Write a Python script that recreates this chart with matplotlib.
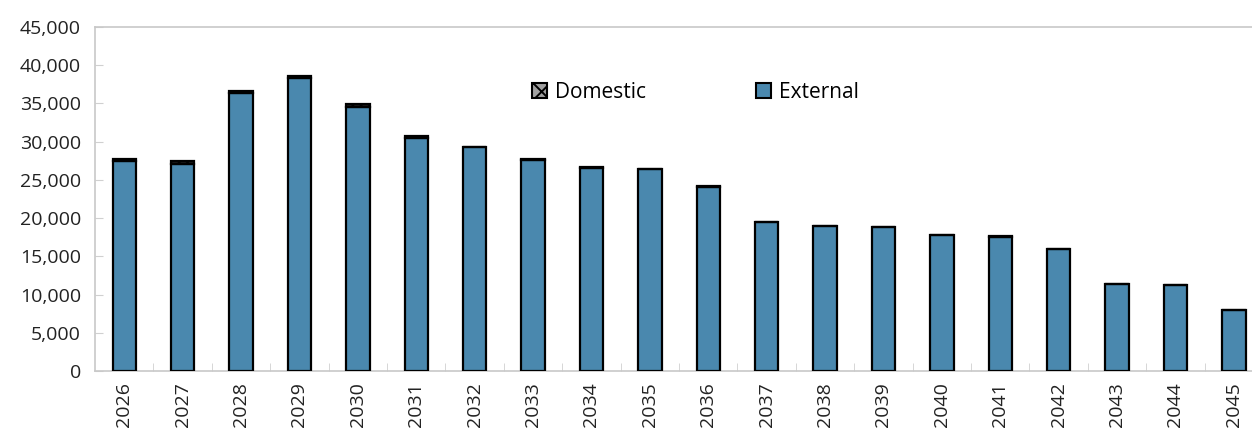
import matplotlib.pyplot as plt
import matplotlib.patches as mpatches
from matplotlib.ticker import FuncFormatter

years = [str(y) for y in range(2026, 2046)]
external = [27450, 27080, 36330, 38330, 34500, 30480, 29280, 27650, 26600, 26380,
            24120, 19450, 18930, 18800, 17760, 17580, 15960, 11380, 11250, 7950]
domestic = [320, 350, 340, 260, 430, 260, 40, 30, 30, 30,
            20, 20, 20, 20, 20, 20, 20, 20, 20, 20]

plt.rcParams['font.family'] = ['Open Sans', 'DejaVu Sans']
plt.rcParams['hatch.linewidth'] = 1.4

fig = plt.figure(figsize=(12.52, 4.29), dpi=100)
ax = fig.add_axes([95 / 1252, 1 - 371 / 429, 1 - 95 / 1252, (371 - 27) / 429])

x = list(range(len(years)))
blue = '#4a88ae'
ax.bar(x, external, width=0.4, color=blue, edgecolor='black', linewidth=1.6, zorder=3)
ax.bar(x, domestic, bottom=external, width=0.4, color='#1a1a1a', edgecolor='black',
       linewidth=1.6, hatch='////', zorder=3)

ax.set_ylim(0, 45000)
ax.set_yticks(range(0, 45001, 5000))
ax.yaxis.set_major_formatter(FuncFormatter(lambda v, p: f'{int(v):,}'))
ax.set_xlim(-0.5, 19.31)
ax.set_xticks(x)
ax.set_xticklabels(years, rotation=90)
ax.set_xticks([i + 0.5 for i in x[:-1]], minor=True)

ax.tick_params(axis='y', direction='in', length=6, color='#d0d0d0', labelsize=14,
               labelcolor='#222222', pad=10)
ax.tick_params(axis='x', which='major', length=0, labelsize=14, labelcolor='#222222', pad=8)
ax.tick_params(axis='x', which='minor', direction='in', length=6, color='#d0d0d0')

for s in ['left', 'bottom', 'top']:
    ax.spines[s].set_color('#c8c8c8')
    ax.spines[s].set_linewidth(1.2)
ax.spines['right'].set_visible(False)

dom_patch = mpatches.Patch(facecolor='#a0a0a0', edgecolor='black', linewidth=1.5,
                           hatch='xx', label='Domestic')
ext_patch = mpatches.Patch(facecolor=blue, edgecolor='black', linewidth=1.5, label='External')
ax.legend(handles=[dom_patch, ext_patch], ncol=2, frameon=False, fontsize=15,
          loc='center', bbox_to_anchor=(0.519, 0.81), columnspacing=5.3,
          handlelength=0.7, handleheight=0.7, handletextpad=0.4)

fig.savefig('out.png', dpi=100)
